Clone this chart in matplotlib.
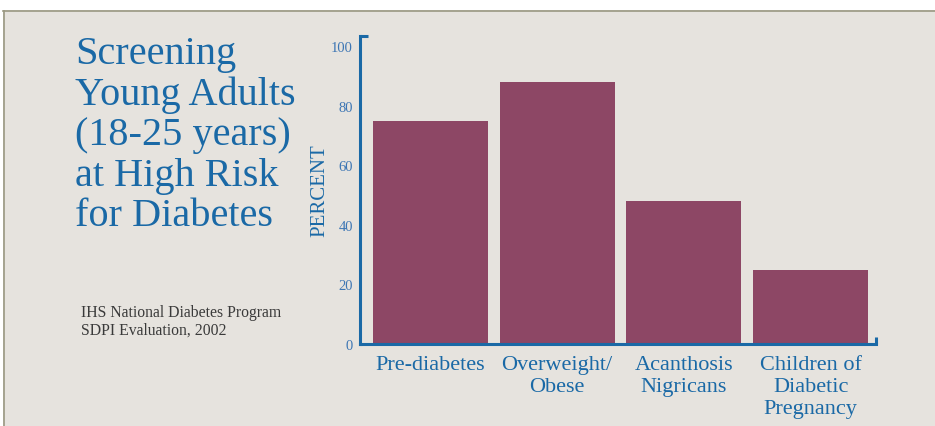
import matplotlib.pyplot as plt
from matplotlib.patches import Rectangle
from matplotlib.lines import Line2D

# Share of screened young adults by risk factor
categories = ["Pre-diabetes", "Overweight/\nObese", "Acanthosis\nNigricans",
              "Children of\nDiabetic\nPregnancy"]
percent = [75, 88, 48, 25]
y_ticks = [0, 20, 40, 60, 80, 100]

W, H = 935, 427
bg = "#e6e3de"
blue = "#1a69a6"
tick_blue = "#3d76b4"
bar_color = "#8d4765"
serif = ["Liberation Serif", "DejaVu Serif"]


def px(x, y):
    # pixel position (from top-left) -> figure fraction
    return x / W, 1 - y / H


fig = plt.figure(figsize=(W / 100, H / 100), dpi=100, facecolor=bg)

# white margin strips and the thin frame on top and left
fig.patches.append(Rectangle((0, 1 - 11 / H), 1, 11 / H, transform=fig.transFigure,
                             facecolor="white", edgecolor="none"))
fig.patches.append(Rectangle((0, 0), 3 / W, 1, transform=fig.transFigure,
                             facecolor="white", edgecolor="none"))
fig.lines.append(Line2D([3 / W, 1], [1 - 11.5 / H] * 2, transform=fig.transFigure,
                        color="#9a9882", lw=1.2))
fig.lines.append(Line2D([3.5 / W] * 2, [0, 1 - 11.5 / H], transform=fig.transFigure,
                        color="#9a9882", lw=1.2))

# axes box in pixels
left, right, top, bottom = 360, 876, 37, 345
ax = fig.add_axes([left / W, 1 - bottom / H, (right - left) / W, (bottom - top) / H])
ax.patch.set_alpha(0)

x = range(len(categories))
ax.bar(x, percent, width=0.906, color=bar_color, zorder=1)

ax.set_xlim(-0.555, 3.516)
ax.set_ylim(0, 103.5)

for s in ["top", "right"]:
    ax.spines[s].set_visible(False)
for s in ["left", "bottom"]:
    ax.spines[s].set_color(blue)
    ax.spines[s].set_linewidth(2.2)
    ax.spines[s].set_zorder(3)

ax.set_yticks(y_ticks)
ax.set_yticklabels([str(v) for v in y_ticks], fontfamily=serif, fontsize=10.5,
                   color=tick_blue)
ax.tick_params(axis="y", which="major", length=0, pad=5)
ax.set_yticks([20, 40, 60, 80, 103.5], minor=True)
ax.tick_params(axis="y", which="minor", direction="in", length=6, width=2.2,
               color=blue)

ax.set_xticks(list(x))
ax.set_xticklabels(categories, fontfamily=serif, fontsize=16, color=blue,
                   linespacing=1.2)
ax.tick_params(axis="x", which="major", length=0, pad=8)
ax.set_xticks([3.516], minor=True)
ax.tick_params(axis="x", which="minor", direction="in", length=5, width=2.2,
               color=blue)

ax.set_ylabel("PERCENT", fontfamily=serif, fontsize=15, color=blue, labelpad=1)

# title block on the left
fx, fy = px(75, 36)
fig.text(fx, fy, "Screening\nYoung Adults\n(18-25 years)\nat High Risk\nfor Diabetes",
         fontfamily=serif, fontsize=29, color=blue, va="top", ha="left",
         linespacing=1.12)

fx, fy = px(81, 305)
fig.text(fx, fy, "IHS National Diabetes Program\nSDPI Evaluation, 2002",
         fontfamily=serif, fontsize=11.3, color="#3a3a3a", va="top", ha="left",
         linespacing=1.15)

fig.savefig("out.png", dpi=100, facecolor=fig.get_facecolor())
